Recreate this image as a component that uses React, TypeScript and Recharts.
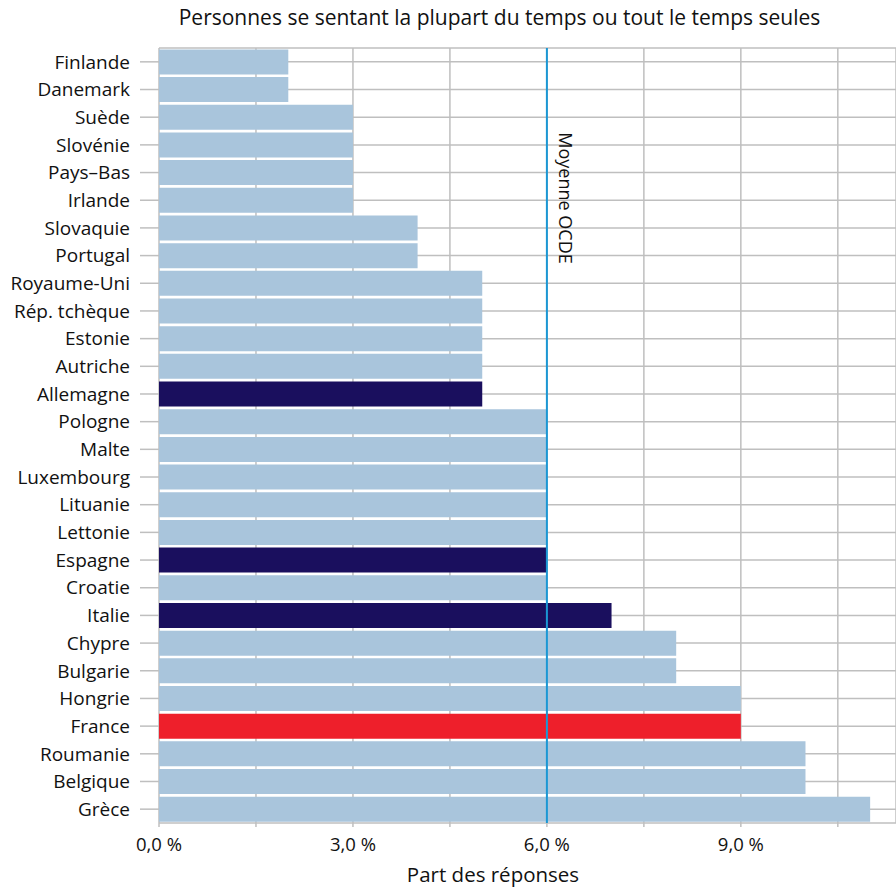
import React from "react";
import {
  BarChart,
  Bar,
  XAxis,
  YAxis,
  CartesianGrid,
  ReferenceLine,
  Cell,
} from "recharts";

const countries = [
  "Finlande", "Danemark", "Suède", "Slovénie", "Pays–Bas", "Irlande", "Slovaquie",
  "Portugal", "Royaume-Uni", "Rép. tchèque", "Estonie", "Autriche", "Allemagne",
  "Pologne", "Malte", "Luxembourg", "Lituanie", "Lettonie", "Espagne", "Croatie",
  "Italie", "Chypre", "Bulgarie", "Hongrie", "France", "Roumanie", "Belgique", "Grèce",
];
const shares = [2, 2, 3, 3, 3, 3, 4, 4, 5, 5, 5, 5, 5, 6, 6, 6, 6, 6, 6, 6, 7, 8, 8, 9, 9, 10, 10, 11];
const highlighted = ["Allemagne", "Espagne", "Italie"];
const focus = "France";
const oecdMean = 6;
const xTicks = [0, 1.5, 3, 4.5, 6, 7.5, 9, 10.5];

const data = countries.map((c, i) => ({ country: c, value: shares[i] }));

const FONT = "'Open Sans', sans-serif";
const GRID = "#bfbfbf";

const fmt = (v: number) => (v % 3 === 0 ? `${v.toFixed(1).replace(".", ",")} %` : "");

export default function App() {
  return (
    <div style={{ position: "absolute", left: 0, top: 0, width: 896, height: 890, fontFamily: FONT, background: "#fff", overflow: "hidden" }}>
      <div style={{ position: "absolute", top: 3, left: 0, width: 999, textAlign: "center", fontSize: 21, color: "#111", whiteSpace: "nowrap" }}>
        Personnes se sentant la plupart du temps ou tout le temps seules
      </div>
      <BarChart
        width={896}
        height={890}
        data={data}
        layout="vertical"
        margin={{ top: 48, right: 0, left: 0, bottom: 37 }}
        barCategoryGap="5%"
      >
        <CartesianGrid stroke={GRID} strokeWidth={1.5} />
        <XAxis
          type="number"
          domain={[0, 11.4]}
          ticks={xTicks}
          tickFormatter={fmt}
          axisLine={false}
          tickSize={4}
          tickMargin={11}
          tickLine={{ stroke: GRID, strokeWidth: 1.5 }}
          tick={{ fontSize: 18.5, fill: "#111", fontFamily: FONT }}
          height={30}
        />
        <YAxis
          type="category"
          dataKey="country"
          width={159}
          axisLine={false}
          tickSize={19}
          tickMargin={10}
          tickLine={{ stroke: GRID, strokeWidth: 1.5 }}
          tick={{ fontSize: 19, fill: "#111", fontFamily: FONT }}
          interval={0}
        />
        <Bar dataKey="value" isAnimationActive={false}>
          {data.map((d) => (
            <Cell
              key={d.country}
              fill={d.country === focus ? "#ee1f2b" : highlighted.includes(d.country) ? "#1a0f5e" : "#a9c5dc"}
            />
          ))}
        </Bar>
        <ReferenceLine
          x={oecdMean}
          stroke="#1b97d4"
          strokeWidth={2}
          label={(p: any) => {
            const vb = p.viewBox;
            const x = vb.x + 19;
            const y = vb.y + 150;
            return (
              <text x={x} y={y} textAnchor="middle" dominantBaseline="central" fontSize={18} fill="#111" fontFamily={FONT} transform={`rotate(90 ${x} ${y})`}>
                Moyenne OCDE
              </text>
            );
          }}
        />
      </BarChart>
      <div style={{ position: "absolute", top: 860, left: 0, width: 986, textAlign: "center", fontSize: 20.5, color: "#111" }}>
        Part des réponses
      </div>
    </div>
  );
}
